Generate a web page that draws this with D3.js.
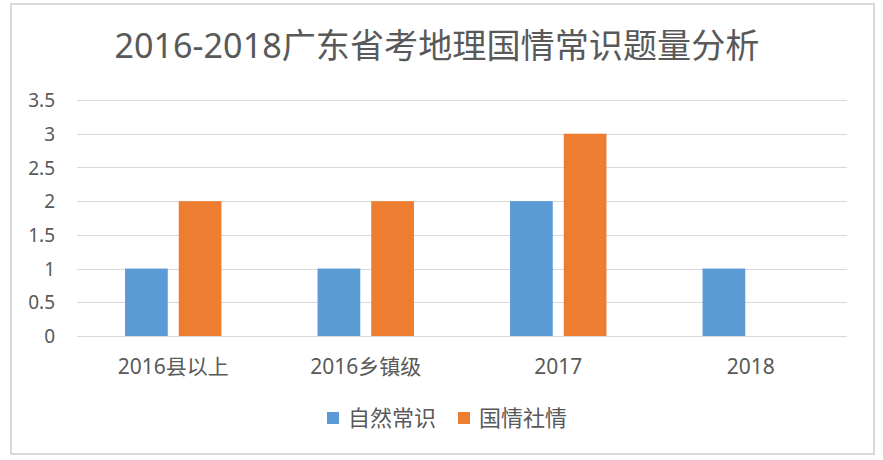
<!DOCTYPE html>
<html><head><meta charset="utf-8">
<script src="https://cdn.jsdelivr.net/npm/d3@7"></script>
<style>body{margin:0;background:#fff}svg{display:block}text{font-family:"Noto Sans","Noto Sans CJK SC",sans-serif;fill:#595959}</style>
</head><body>
<script>
const categories = ["2016县以上", "2016乡镇级", "2017", "2018"];
const seriesNames = ["自然常识", "国情社情"];
const natureValues = [1, 1, 2, 1];
const nationValues = [2, 2, 3, null];
const yTicks = [0, 0.5, 1, 1.5, 2, 2.5, 3, 3.5];
const colors = ["#5b9bd5", "#ed7d31"];
const title = "2016-2018广东省考地理国情常识题量分析";

(function () {
const W = 883, H = 460;
const svg = d3.select("body").append("svg").attr("width", W).attr("height", H);
svg.append("rect").attr("x", 11).attr("y", 4).attr("width", 863).attr("height", 450)
  .attr("fill", "#fff").attr("stroke", "#d9d9d9").attr("stroke-width", 2);

const pLeft = 77, pRight = 847, pTop = 100, pBottom = 336;
const x = d3.scaleBand().domain(categories).range([pLeft, pRight]).padding(0);
const y = d3.scaleLinear().domain([0, 3.5]).range([pBottom, pTop]);

svg.append("g").selectAll("line").data(yTicks).join("line")
  .attr("x1", pLeft).attr("x2", pRight)
  .attr("y1", d => Math.round(y(d)) + 0.5).attr("y2", d => Math.round(y(d)) + 0.5)
  .attr("stroke", "#d9d9d9").attr("stroke-width", 1);

const yAxis = d3.axisLeft(y).tickValues(yTicks).tickSize(0).tickPadding(0).tickFormat(d3.format(""));
const ya = svg.append("g").attr("transform", `translate(55,0)`).call(yAxis);
ya.select(".domain").remove();
ya.selectAll("text").attr("font-size", 19).attr("fill", "#595959").attr("dy", "0.35em");

const bw = x.bandwidth();
const barW = bw * 0.222, innerGap = bw * 0.057;
const series = [natureValues, nationValues];
series.forEach((vals, si) => {
  svg.append("g").selectAll("rect").data(categories.map((c, i) => ({c, v: vals[i]})).filter(d => d.v != null))
    .join("rect")
    .attr("x", d => x(d.c) + bw / 2 + (si === 0 ? -(innerGap / 2 + barW) : innerGap / 2))
    .attr("width", barW)
    .attr("y", d => y(d.v))
    .attr("height", d => y(0) - y(d.v))
    .attr("fill", colors[si]);
});

const xAxis = d3.axisBottom(x).tickSize(0).tickPadding(0);
const xa = svg.append("g").attr("transform", `translate(0,${pBottom})`).call(xAxis);
xa.select(".domain").remove();
xa.selectAll("text").attr("font-size", 21).attr("fill", "#595959").attr("dy", "0.35em").attr("y", 31);

svg.append("text").attr("x", 437).attr("y", 58).attr("text-anchor", "middle")
  .attr("font-size", 34).attr("textLength", 645).attr("lengthAdjust", "spacingAndGlyphs").text(title);

const lg = svg.append("g");
const lx = [327, 458];
seriesNames.forEach((n, i) => {
  lg.append("rect").attr("x", lx[i]).attr("y", 412).attr("width", 12).attr("height", 12).attr("fill", colors[i]);
  lg.append("text").attr("x", lx[i] + 21).attr("y", 418).attr("dy", "0.35em").attr("font-size", 22).text(n);
});
})();
</script>
</body></html>
